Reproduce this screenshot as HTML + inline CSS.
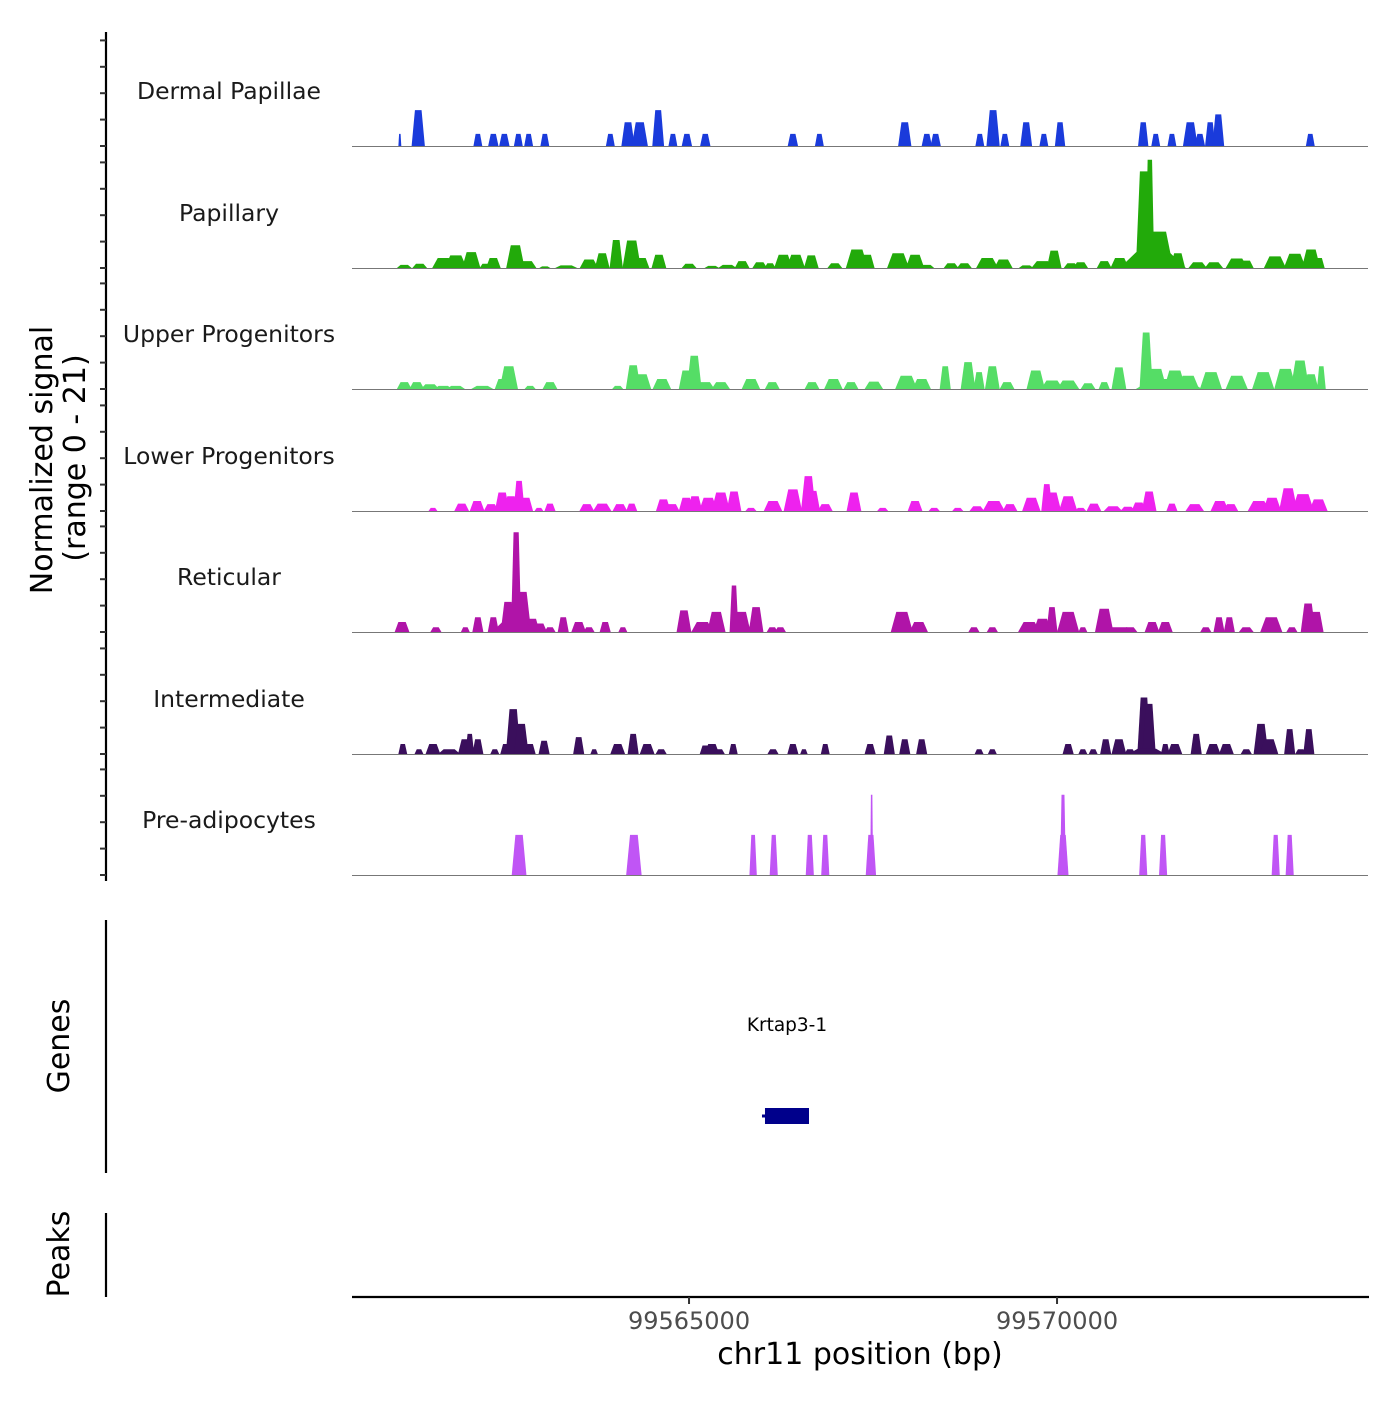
<!DOCTYPE html>
<html><head><meta charset="utf-8">
<style>
body{margin:0;background:#fff;}
svg text{font-family:"DejaVu Sans","Liberation Sans",sans-serif;}
</style></head>
<body>
<svg id="chart" width="1400" height="1400" viewBox="0 0 1400 1400" xmlns="http://www.w3.org/2000/svg">
<g id="signal"></g>
<line x1="106" y1="32" x2="106" y2="881" stroke="#000" stroke-width="2.2"/>
<g id="yticks"></g>
<text transform="translate(52,460) rotate(-90)" text-anchor="middle" font-size="30">Normalized signal</text>
<text transform="translate(85,458) rotate(-90)" text-anchor="middle" font-size="30">(range 0 - 21)</text>

<line x1="106" y1="920" x2="106" y2="1173" stroke="#000" stroke-width="2.2"/>
<text transform="translate(69,1046) rotate(-90)" text-anchor="middle" font-size="30">Genes</text>
<g id="genes"></g>

<line x1="106" y1="1213" x2="106" y2="1297" stroke="#000" stroke-width="2.2"/>
<text transform="translate(69,1254) rotate(-90)" text-anchor="middle" font-size="30">Peaks</text>

<line x1="352" y1="1297" x2="1369" y2="1297" stroke="#000" stroke-width="2.2"/>
<g id="xticks"></g>
<text x="860" y="1364" text-anchor="middle" font-size="30">chr11 position (bp)</text>
</svg>
<script>
const REGION_START = 99560421;
const REGION_END = 99574225;
const trackNames = ["Dermal Papillae","Papillary","Upper Progenitors","Lower Progenitors","Reticular","Intermediate","Pre-adipocytes"];
const trackColors = ["#1a3bdb","#22aa0a","#55dd66","#ee22ee","#b014a8","#3a0f5c","#c055f5"];
const xTickValues = [99565000, 99570000];
const xTickLabels = ["99565000","99570000"];
const yTickValues = [0,5,10,15,20];
// peak centres (kb from region start), widths (kb), heights (normalized signal)
const dpCenters = [0.65,0.90,1.71,1.92,2.07,2.26,2.40,2.62,3.51,3.75,3.91,4.16,4.36,4.55,4.80,5.99,6.35,7.51,7.81,7.93,8.53,8.71,8.87,9.16,9.40,9.62,10.75,10.92,11.14,11.39,11.52,11.66,11.77,13.02];
const dpWidths  = [0.04,0.18,0.12,0.14,0.14,0.12,0.12,0.12,0.12,0.18,0.22,0.16,0.12,0.14,0.14,0.14,0.12,0.18,0.14,0.14,0.12,0.18,0.12,0.16,0.12,0.14,0.14,0.12,0.12,0.2,0.14,0.14,0.16,0.12];
const dpHeights = [2.3,6.8,2.3,2.3,2.3,2.3,2.3,2.3,2.3,4.5,4.5,6.8,2.3,2.3,2.3,2.3,2.3,4.5,2.3,2.3,2.3,6.8,2.3,4.5,2.3,4.5,4.5,2.3,2.3,4.5,2.3,4.5,6,2.3];

const papCenters = [0.71,0.92,1.24,1.41,1.62,1.81,1.92,2.22,2.38,2.62,2.91,3.22,3.40,3.59,3.80,3.94,4.17,4.58,4.89,5.10,5.30,5.54,5.68,5.86,6.03,6.24,6.56,6.86,7.00,7.42,7.65,7.81,8.14,8.32,8.63,8.85,9.16,9.38,9.54,9.77,9.90,10.22,10.43,10.61,10.76,10.84,10.96,10.88,11.14,11.22,11.49,11.71,12.02,12.15,12.54,12.81,13.03,13.14];
const papHeights = [0.6,0.8,1.9,2.4,3.0,0.8,1.9,4.3,1.3,0.3,0.5,1.6,2.8,5.3,5.2,1.9,2.5,0.8,0.4,0.6,1.3,1.1,0.9,2.5,2.5,2.4,0.9,3.5,2.5,2.8,2.5,0.6,0.9,0.9,1.9,1.6,0.5,1.3,3.3,0.9,1.1,1.3,1.9,1.3,18.3,20.5,6.9,3.0,2.2,2.8,1.1,1.1,1.8,1.4,2.2,2.7,3.5,1.9];
const papWidths  = [0.2,0.2,0.3,0.3,0.25,0.15,0.2,0.25,0.25,0.15,0.3,0.25,0.2,0.18,0.25,0.2,0.2,0.2,0.2,0.25,0.2,0.2,0.15,0.25,0.25,0.2,0.2,0.3,0.2,0.3,0.25,0.2,0.2,0.2,0.3,0.25,0.2,0.3,0.2,0.2,0.2,0.2,0.25,0.2,0.22,0.12,0.4,0.9,0.2,0.2,0.25,0.25,0.3,0.2,0.3,0.3,0.25,0.15];

const upCenters = [0.71,0.88,1.06,1.24,1.41,1.77,2.04,2.13,2.42,2.69,3.61,3.82,3.94,4.21,4.54,4.65,4.80,5.01,5.42,5.71,6.25,6.54,6.78,7.09,7.53,7.74,8.06,8.37,8.52,8.70,8.90,9.29,9.51,9.73,10.0,10.22,10.42,10.79,10.92,11.18,11.36,11.67,12.02,12.38,12.68,12.88,13.03,13.17,11.1];
const upHeights = [1.3,1.3,0.9,0.6,0.6,0.6,1.9,4.3,0.6,1.3,0.6,4.5,2.8,1.9,3.5,6.3,1.3,1.3,1.9,1.3,1.3,1.9,1.3,1.4,2.5,1.9,4.3,5.1,3.2,4.3,1.3,3.5,1.6,1.6,1.1,1.3,4.1,10.7,3.8,3.5,2.5,3.2,2.5,3.2,3.8,5.4,2.8,4.3,1.9];
const upWidths  = [0.2,0.2,0.25,0.25,0.25,0.3,0.2,0.25,0.15,0.2,0.15,0.2,0.25,0.25,0.2,0.2,0.25,0.25,0.25,0.2,0.2,0.25,0.2,0.25,0.3,0.25,0.15,0.2,0.15,0.2,0.2,0.25,0.3,0.3,0.2,0.15,0.2,0.18,0.3,0.3,0.3,0.3,0.3,0.3,0.3,0.25,0.2,0.12,0.9];

const lpCenters = [1.10,1.49,1.70,1.89,2.04,2.16,2.27,2.36,2.54,2.69,3.19,3.40,3.64,3.80,4.23,4.35,4.54,4.66,4.84,5.01,5.19,5.42,5.72,5.99,6.20,6.26,6.43,6.82,7.21,7.65,7.91,8.23,8.49,8.72,8.94,9.23,9.44,9.51,9.73,9.90,10.08,10.34,10.54,10.69,10.83,11.14,11.45,11.79,11.94,12.32,12.50,12.72,12.92,13.13];
const lpHeights = [0.6,1.4,1.9,1.3,3.5,2.8,5.7,2.5,0.6,1.4,1.3,1.4,1.3,1.4,2.2,1.3,2.5,2.8,2.5,3.5,3.7,0.6,1.9,4.1,6.6,3.8,1.3,3.5,0.6,1.9,0.6,0.6,0.9,1.9,1.3,2.5,5.1,3.5,2.8,0.6,1.4,0.9,0.8,1.6,3.7,1.4,1.3,1.9,1.3,1.9,2.5,4.3,3.2,2.2];
const lpWidths  = [0.12,0.2,0.2,0.2,0.2,0.2,0.15,0.2,0.12,0.15,0.2,0.25,0.2,0.15,0.2,0.2,0.2,0.2,0.25,0.25,0.2,0.15,0.25,0.25,0.2,0.2,0.2,0.2,0.15,0.2,0.15,0.15,0.2,0.3,0.2,0.25,0.15,0.25,0.25,0.15,0.2,0.25,0.2,0.2,0.2,0.15,0.25,0.25,0.2,0.3,0.25,0.25,0.3,0.25];

const retCenters = [0.68,1.14,1.54,1.71,1.92,2.12,2.23,2.31,2.45,2.55,2.69,2.87,3.08,3.22,3.44,3.68,4.51,4.76,4.95,5.19,5.29,5.49,5.71,5.82,7.47,7.70,8.45,8.70,9.20,9.38,9.51,9.73,9.93,10.22,10.43,10.57,10.87,11.05,11.60,11.78,11.92,12.15,12.49,12.77,12.99,13.10,2.2];
const retHeights = [1.9,0.9,0.9,2.8,2.8,5.7,18.9,7.6,2.5,1.6,0.9,2.8,1.9,0.9,1.9,0.9,4.1,1.9,3.8,8.8,3.8,4.7,0.9,0.9,3.8,1.9,0.9,0.9,1.9,2.5,4.7,3.8,0.9,4.4,0.9,0.9,1.9,1.9,0.9,2.8,2.8,0.9,2.8,0.9,5.4,3.8,2.0];
const retWidths  = [0.2,0.15,0.12,0.15,0.15,0.2,0.14,0.25,0.2,0.2,0.15,0.15,0.2,0.15,0.15,0.12,0.2,0.3,0.25,0.12,0.25,0.2,0.15,0.15,0.3,0.25,0.15,0.15,0.3,0.25,0.15,0.3,0.12,0.25,0.4,0.2,0.2,0.2,0.15,0.15,0.15,0.2,0.3,0.15,0.2,0.2,0.6];

const intCenters = [0.69,0.91,1.10,1.32,1.54,1.60,1.71,1.94,2.09,2.19,2.30,2.42,2.61,3.08,3.29,3.61,3.82,4.01,4.20,4.80,4.89,4.99,5.18,5.72,5.99,6.14,6.43,7.04,7.30,7.51,7.74,8.52,8.70,9.73,9.93,10.07,10.24,10.42,10.57,10.76,10.83,11.05,11.18,11.47,11.70,11.88,12.15,12.35,12.46,12.74,12.89,13.00,10.8];
const intHeights = [1.9,0.9,1.9,0.9,2.8,3.8,2.8,0.9,1.9,8.5,5.7,1.9,2.5,3.2,0.9,1.9,3.8,1.9,0.9,1.6,1.9,0.9,1.9,0.9,1.9,0.9,1.9,1.9,3.5,2.8,2.8,0.9,0.9,1.9,0.9,0.9,2.8,2.8,0.9,10.7,9.5,1.9,1.9,3.8,1.9,1.9,0.9,5.7,2.8,4.7,0.9,4.7,1.0];
const intWidths  = [0.12,0.12,0.2,0.3,0.2,0.12,0.15,0.12,0.15,0.2,0.2,0.15,0.15,0.15,0.1,0.2,0.15,0.2,0.15,0.15,0.2,0.15,0.12,0.15,0.15,0.1,0.12,0.15,0.15,0.15,0.15,0.12,0.12,0.15,0.12,0.12,0.15,0.2,0.15,0.18,0.18,0.12,0.2,0.15,0.2,0.2,0.15,0.2,0.25,0.15,0.15,0.15,0.5];

const preCenters = [2.27,3.83,5.45,5.73,6.22,6.43,7.05,7.06,9.66,9.66,10.75,11.02,12.55,12.74];
const preHeights = [7.6,7.6,7.6,7.6,7.6,7.6,7.6,15.2,7.6,15.2,7.6,7.6,7.6,7.6];
const preWidths  = [0.2,0.21,0.1,0.11,0.11,0.11,0.14,0.04,0.15,0.08,0.11,0.11,0.11,0.11];

const centers = [dpCenters,papCenters,upCenters,lpCenters,retCenters,intCenters,preCenters];
const widths  = [dpWidths,papWidths,upWidths,lpWidths,retWidths,intWidths,preWidths];
const heights = [dpHeights,papHeights,upHeights,lpHeights,retHeights,intHeights,preHeights];

const geneName = "Krtap3-1";
const geneStart = 99566032, geneEnd = 99566630;

const NS = "http://www.w3.org/2000/svg";
const X0 = 352, X1 = 1368;
const xScale = bp => X0 + (bp - REGION_START) / (REGION_END - REGION_START) * (X1 - X0);
const kbX = kb => xScale(REGION_START + kb * 1000);
const baselines = [146,268,389,511,632,754,875];
const PX_PER_UNIT = 5.28;
const yScale = (t, v) => baselines[t] - v * PX_PER_UNIT;
function mk(tag, attrs, parent){const e=document.createElementNS(NS,tag);for(const k in attrs)e.setAttribute(k,attrs[k]);parent.appendChild(e);return e;}

const sig = document.getElementById('signal');
const yt = document.getElementById('yticks');
for (let t=0;t<7;t++){
  const g = mk('g',{},sig);
  
  
  const lab = mk('text',{x:229,y:baselines[t]-47,'text-anchor':'middle','font-size':23.5,fill:'#1a1a1a'},g);
  lab.textContent = trackNames[t];
  
  
  const n = Math.min(centers[t].length, widths[t].length, heights[t].length);
  for (let i=0;i<n;i++){
    const c=centers[t][i], w=widths[t][i], h=heights[t][i];
    const xa=kbX(c-w/2), xb=kbX(c-w/4), xc=kbX(c+w/4), xd=kbX(c+w/2);
    const y0=baselines[t], yh=yScale(t,h);
    const p = mk('polygon',{points:`${xa},${y0} ${xb},${yh} ${xc},${yh} ${xd},${y0}`,fill:trackColors[t]},g);
    
    
  }
  const bl = mk('line',{x1:X0,x2:X1,y1:baselines[t]+0.5,y2:baselines[t]+0.5,stroke:'#777','stroke-width':1},g);
  
  
  for (const v of yTickValues){
    const y=yScale(t,v);
    const tk = mk('line',{x1:100,x2:106,y1:y,y2:y,stroke:'#333','stroke-width':2},yt);
    
    
  }
}
// gene
const gg = document.getElementById('genes');
const gl = mk('text',{x:(xScale(geneStart)+xScale(geneEnd))/2,y:1031,'text-anchor':'middle','font-size':18.5,fill:'#000'},gg);
gl.textContent = geneName;


const gb = mk('rect',{x:xScale(geneStart),y:1108,width:xScale(geneEnd)-xScale(geneStart),height:16,fill:'#00008b'},gg);


const gline = mk('line',{x1:xScale(geneStart)-3,x2:xScale(geneEnd),y1:1116,y2:1116,stroke:'#00008b','stroke-width':3},gg);


// x ticks
const xt = document.getElementById('xticks');
for (let i=0;i<xTickValues.length;i++){
  const x=xScale(xTickValues[i]);
  const l = mk('line',{x1:x,x2:x,y1:1297,y2:1304,stroke:'#333','stroke-width':2},xt);
  
  
  const tx = mk('text',{x:x,y:1329,'text-anchor':'middle','font-size':24,fill:'#4d4d4d'},xt);
  tx.textContent = xTickLabels[i];
  
  
}
</script>
</body></html>
